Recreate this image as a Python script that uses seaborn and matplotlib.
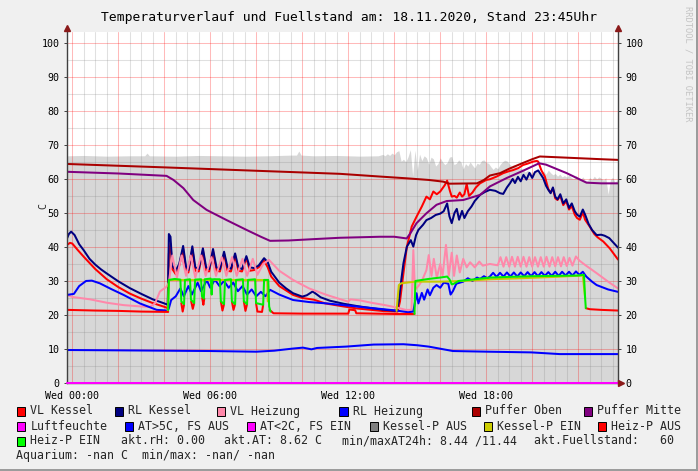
import numpy as np
import pandas as pd
import matplotlib
matplotlib.use("Agg")
import matplotlib.pyplot as plt
import seaborn as sns
from matplotlib.patches import Rectangle
from matplotlib.ticker import MultipleLocator, FixedLocator, FuncFormatter

# ---------------- data (hours since Wed 00:00, degrees C) ----------------
vl_kessel_t = [-0.23, -0.1, 0.0, 0.25, 0.5, 1.0, 1.5, 2.0, 2.5, 3.0, 3.5, 4.0, 4.15,
               4.2, 4.27, 4.35, 4.5, 4.65, 4.82, 4.95, 5.05, 5.22, 5.35, 5.5, 5.68, 5.82, 5.95,
               6.12, 6.27, 6.42, 6.6, 6.75, 6.9, 7.08, 7.22, 7.38, 7.57, 7.72, 7.9, 8.1, 8.34,
               8.5, 8.65, 9.0, 9.6, 10.0, 10.5, 11.0, 11.8, 12.4, 13.0, 13.6, 14.15, 14.25, 14.4,
               14.55, 14.76, 14.97, 15.2, 15.4, 15.55, 15.7, 15.85, 16.0, 16.2, 16.3, 16.42, 16.5,
               16.62, 16.72, 16.85, 16.95, 17.05, 17.15, 17.25, 17.4, 17.55, 17.73, 18.0, 18.16,
               18.45, 18.74, 19.0, 19.17, 19.4, 19.6, 19.8, 20.04, 20.2, 20.26, 20.4, 20.55, 20.7,
               20.8, 20.9, 21.0, 21.1, 21.22, 21.35, 21.48, 21.6, 21.72, 21.85, 21.95, 22.07, 22.2,
               22.3, 22.5, 22.7, 22.85, 23.09, 23.37, 23.73]
vl_kessel_v = [40.6, 41.2, 41.0, 39.0, 37.1, 33.5, 30.5, 28.2, 26.3, 24.8, 23.5, 22.4, 22.0,
               38.0, 41.0, 33.5, 32.0, 34.5, 39.5, 33.0, 32.5, 39.5, 33.0, 32.8, 39.0, 33.0, 32.8,
               38.8, 33.0, 32.8, 38.0, 33.0, 32.8, 37.5, 33.0, 32.8, 36.8, 33.0, 33.2, 34.0, 36.0,
               34.0, 31.3, 28.5, 25.9, 25.0, 24.5, 23.4, 22.5, 21.9, 21.5, 21.1, 21.0, 24.0, 32.3,
               40.1, 46.0, 48.9, 51.9, 54.8, 54.0, 56.3, 55.5, 56.3, 58.2, 59.5, 56.5, 54.8,
               55.0, 54.5, 56.0, 54.8, 55.5, 58.5, 55.0, 56.0, 57.5, 58.7, 59.7, 59.9,
               60.7, 61.7, 62.3, 62.6, 63.2, 64.1, 64.5, 65.1, 65.3, 65.1, 62.5, 60.7, 57.0,
               56.0, 57.2, 54.3, 53.8, 55.0, 52.3, 53.5, 51.0, 52.0, 49.5, 48.5, 48.0, 50.2,
               48.0, 46.0, 43.8, 42.8, 41.6, 39.6, 36.3]

rl_kessel_t = [-0.23, -0.15, -0.05, 0.1, 0.3, 0.5, 0.75, 1.0, 1.25, 1.5, 2.0, 2.5, 3.0, 3.5, 4.0, 4.15,
               4.2, 4.27, 4.35, 4.5, 4.65, 4.82, 4.95, 5.05, 5.22, 5.35, 5.5, 5.68, 5.82, 5.95, 6.12,
               6.27, 6.42, 6.6, 6.75, 6.9, 7.08, 7.22, 7.38, 7.57, 7.72, 7.9, 8.1, 8.34, 8.5, 8.65,
               9.0, 9.3, 9.6, 10.0, 10.2, 10.45, 10.6, 10.8, 11.2, 11.8, 12.4, 13.0, 13.6, 14.1,
               14.2, 14.3, 14.4, 14.55, 14.72, 14.83, 14.95, 15.05, 15.25, 15.4, 15.6, 15.8, 16.0,
               16.15, 16.3, 16.4, 16.5, 16.62, 16.72, 16.82, 16.95, 17.05, 17.2, 17.36, 17.5, 17.73,
               17.95, 18.16, 18.4, 18.6, 18.74, 18.9, 19.03, 19.15, 19.25, 19.38, 19.5, 19.62, 19.75,
               19.88, 20.0, 20.12, 20.26, 20.4, 20.48, 20.6, 20.7, 20.8, 20.9, 21.0, 21.1, 21.22,
               21.35, 21.48, 21.6, 21.72, 21.85, 21.95, 22.07, 22.2, 22.3, 22.45, 22.6, 22.8, 23.0,
               23.15, 23.35, 23.5, 23.73]
rl_kessel_v = [42.5, 43.8, 44.5, 43.5, 40.8, 39.0, 36.5, 34.8, 33.4, 32.2, 29.9, 27.9, 26.2, 24.6, 23.4, 23.0,
               43.8, 43.0, 34.5, 33.0, 35.0, 40.3, 34.0, 33.2, 40.2, 34.0, 33.5, 39.6, 34.0, 33.5, 39.4,
               34.0, 33.5, 38.6, 34.0, 33.6, 38.1, 34.0, 33.5, 37.3, 34.0, 33.8, 34.5, 36.7, 35.5, 32.7,
               29.5, 27.8, 26.4, 25.4, 25.8, 26.9, 26.2, 25.2, 24.2, 23.3, 22.6, 22.0, 21.5, 21.2,
               24.0, 30.0, 35.2, 40.1, 42.0, 40.1, 43.5, 45.0, 46.5, 47.9, 48.5, 49.4, 49.8,
               50.5, 52.8, 49.0, 47.0, 50.0, 51.2, 48.0, 50.6, 48.5, 50.5, 51.9, 53.5, 55.3,
               56.2, 56.8, 56.5, 55.8, 55.6, 57.5, 58.7, 60.0, 58.8, 60.6, 59.3, 61.2, 59.8,
               61.8, 60.3, 62.0, 62.5, 61.0, 60.2, 58.0, 56.8, 55.8, 57.5, 54.8, 54.0, 55.5,
               52.8, 54.0, 51.5, 52.8, 50.5, 49.5, 48.9, 51.0, 49.5, 46.8, 45.0, 43.5, 43.6,
               43.3, 42.6, 41.5, 39.8]

vl_heiz_t = [-0.23, 0.0, 0.77, 1.5, 2.23, 3.0, 3.38, 3.6, 3.81, 4.1, 4.2, 4.35, 4.55, 4.75, 4.95,
             5.15, 5.35, 5.6, 5.8, 6.05, 6.25, 6.5, 6.7, 6.95, 7.15, 7.4, 7.6, 7.85, 8.05, 8.3, 8.55,
             9.0, 9.6, 10.3, 11.06, 12.0, 12.1, 12.5, 13.0, 13.6, 14.1, 14.5, 14.75, 14.83, 14.9,
             15.05, 15.2, 15.4, 15.5, 15.62, 15.72, 15.85, 16.0, 16.1, 16.25, 16.37, 16.5, 16.6,
             16.72, 16.85, 17.0, 17.15, 17.3, 17.5, 17.7, 17.85, 18.16, 18.5, 18.62, 18.75, 18.87,
             19.0, 19.12, 19.25, 19.37, 19.5, 19.62, 19.75, 19.87, 20.0, 20.12, 20.25, 20.37, 20.5,
             20.62, 20.75, 20.87, 21.0, 21.12, 21.25, 21.37, 21.5, 21.62, 21.75, 21.9, 22.05, 22.3,
             22.8, 23.3, 23.73]
vl_heiz_v = [25.9, 25.3, 24.6, 23.6, 22.9, 22.5, 22.4, 23.4, 26.9, 28.3, 29.5, 37.5, 31.0, 37.5, 31.5,
             37.5, 31.0, 37.5, 31.5, 37.0, 31.5, 37.0, 31.5, 37.0, 31.5, 36.5, 31.5, 36.5, 31.8, 35.0, 36.2,
             33.0, 30.3, 27.8, 25.9, 23.9, 24.6, 24.3, 23.6, 22.9, 22.2, 21.5, 21.5, 39.1, 27.4,
             28.5, 30.0, 33.2, 37.6, 31.5, 36.5, 31.0, 35.0, 31.5, 40.6, 31.5, 38.3, 31.5,
             37.5, 32.5, 36.5, 34.0, 35.5, 34.0, 35.7, 34.5, 35.0, 34.6, 37.0, 34.2, 37.0,
             34.2, 37.1, 34.2, 37.1, 34.2, 37.1, 34.2, 37.0, 34.2, 37.0, 34.2, 37.0, 34.2,
             37.1, 34.2, 37.0, 34.3, 37.0, 34.3, 37.0, 34.4, 36.8, 34.5, 37.2, 36.0, 34.7,
             32.3, 29.8, 27.8]

rl_heiz_t = [-0.23, 0.07, 0.3, 0.6, 0.85, 1.2, 1.7, 2.23, 2.94, 3.67, 4.15, 4.2, 4.3, 4.5, 4.7, 4.85,
             5.05, 5.2, 5.45, 5.6, 5.85, 6.0, 6.2, 6.4, 6.6, 6.8, 7.0, 7.2, 7.4, 7.6, 7.8, 8.0, 8.2,
             8.4, 8.6, 9.0, 9.6, 10.3, 11.06, 12.5, 14.1, 14.6, 14.83, 14.97, 15.05, 15.2, 15.3,
             15.45, 15.55, 15.7, 15.84, 16.0, 16.15, 16.35, 16.45, 16.55, 16.7, 17.0, 17.2, 17.4,
             17.6, 17.73, 17.9, 18.05, 18.16, 18.3, 18.45, 18.6, 18.75, 18.9, 19.05, 19.2, 19.35,
             19.5, 19.65, 19.8, 19.95, 20.1, 20.25, 20.4, 20.55, 20.7, 20.85, 21.0, 21.15, 21.3,
             21.45, 21.6, 21.75, 21.9, 22.05, 22.2, 22.35, 22.6, 22.8, 23.3, 23.73]
rl_heiz_v = [25.9, 26.2, 28.5, 30.0, 30.1, 29.3, 27.6, 25.9, 23.4, 21.5, 21.3, 22.0, 24.4, 25.5, 27.8, 25.5,
             28.5, 26.0, 29.5, 27.0, 30.2, 28.0, 30.4, 28.5, 30.0, 28.0, 29.5, 27.0, 28.5, 26.0, 27.5, 25.5, 26.8,
             25.5, 27.4, 26.0, 24.4, 23.8, 23.4, 22.4, 21.3, 20.8, 21.0, 26.4, 23.4, 26.5, 24.5,
             27.5, 25.8, 28.0, 28.8, 28.0, 29.5, 29.2, 26.0, 27.0, 29.2, 29.8, 30.8, 30.0,
             31.0, 30.6, 31.4, 30.8, 31.3, 32.4, 31.2, 32.4, 31.3, 32.5, 31.3, 32.5, 31.3,
             32.5, 31.4, 32.6, 31.4, 32.6, 31.4, 32.6, 31.5, 32.6, 31.5, 32.7, 31.5, 32.7,
             31.6, 32.7, 31.6, 32.8, 31.8, 32.7, 31.3, 29.8, 28.8, 27.5, 26.8]

puffer_oben_t = [-0.23, 4.0, 8.0, 11.64, 13.38, 14.5, 15.5, 16.13, 16.4, 17.6, 17.9, 18.16, 18.6,
                 19.0, 19.6, 20.0, 20.33, 21.0, 22.0, 23.0, 23.73]
puffer_oben_v = [64.4, 63.4, 62.4, 61.5, 60.7, 60.2, 59.7, 59.2, 58.6, 58.7, 59.7, 61.0, 61.7,
                 63.0, 64.7, 65.8, 66.6, 66.4, 66.1, 65.8, 65.6]

puffer_mitte_t = [-0.23, 2.0, 4.1, 4.4, 4.83, 5.26, 5.84, 6.71, 7.58, 8.2, 8.6, 9.4, 10.5, 11.64,
                  13.38, 14.0, 14.54, 14.7, 14.97, 15.4, 15.84, 16.28, 17.0, 17.73, 18.16, 18.9,
                  19.6, 20.3, 20.6, 21.5, 22.36, 23.0, 23.73]
puffer_mitte_v = [62.1, 61.6, 60.9, 59.7, 57.3, 53.8, 50.9, 47.9, 45.0, 43.0, 41.8, 41.9, 42.3, 42.7,
                  43.0, 43.0, 42.5, 44.0, 47.0, 49.9, 52.4, 53.5, 53.8, 55.3, 57.8, 60.3,
                  62.4, 64.6, 64.2, 61.7, 58.9, 58.7, 58.7]

at_t = [-0.23, 2.0, 4.0, 6.0, 8.0, 8.78, 9.56, 10.03, 10.4, 10.64, 11.9, 13.1, 14.4, 15.0,
        15.5, 16.55, 18.1, 19.96, 21.2, 23.73]
at_v = [9.7, 9.6, 9.5, 9.4, 9.2, 9.5, 10.1, 10.4, 9.9, 10.3, 10.7, 11.3, 11.4, 11.1,
        10.7, 9.4, 9.2, 9.0, 8.5, 8.5]

luft_t = [-0.23, 23.73]
luft_v = [0.0, 0.0]

kp_ein_t = [[4.15, 4.2, 8.48, 8.5],
            [14.1, 14.2, 14.3, 14.9, 16.0, 17.0, 18.16, 19.5, 21.0, 22.2, 22.3]]
kp_ein_v = [[21.0, 30.3, 30.3, 24.0],
            [21.2, 28.8, 29.3, 29.8, 29.8, 30.0, 30.5, 30.8, 31.2, 31.6, 25.0]]

hp_aus_t = [[-0.23, 1.0, 2.0, 3.0, 4.17],
            [4.74, 4.8, 4.86], [5.17, 5.24, 5.3], [5.65, 5.7, 5.74], [6.46, 6.53, 6.6],
            [6.94, 7.01, 7.08], [7.46, 7.53, 7.6], [7.99, 8.05, 8.25, 8.3],
            [8.58, 8.75, 10.0, 12.0, 12.05, 12.3, 12.35, 14.0, 14.88],
            [22.33, 22.5, 23.0, 23.73]]
hp_aus_v = [[21.5, 21.3, 21.2, 21.0, 20.9],
            [23.5, 21.0, 23.0], [24.0, 21.8, 23.5], [25.0, 23.0, 24.8], [24.0, 21.3, 23.2],
            [24.0, 21.5, 23.2], [24.0, 21.2, 23.2], [23.5, 21.0, 20.9, 23.0],
            [21.5, 20.5, 20.4, 20.4, 21.6, 21.4, 20.5, 20.3, 20.3],
            [22.0, 21.7, 21.5, 21.3]]

hp_ein_t = [[4.17, 4.2, 4.45, 4.7, 4.74, 4.86, 4.9, 5.12, 5.16, 5.3, 5.34, 5.6, 5.64, 5.72, 5.76,
             6.02, 6.06, 6.1, 6.42, 6.46, 6.6, 6.64, 6.9, 6.94, 7.08, 7.12, 7.42, 7.46, 7.6, 7.64,
             7.95, 7.99, 8.3, 8.34, 8.52, 8.56, 8.62],
            [14.88, 14.92, 15.2, 15.5, 16.0, 16.3, 16.4, 16.5, 16.6, 16.8, 17.5, 18.16, 19.0,
             20.0, 21.0, 22.0, 22.25, 22.3, 22.33]]
hp_ein_v = [[21.5, 30.3, 30.6, 30.4, 24.0, 23.2, 30.3, 30.5, 24.5, 23.5, 30.4, 30.5, 25.5, 24.8, 30.5,
             30.7, 26.0, 30.5, 30.5, 24.0, 23.2, 30.3, 30.5, 24.0, 23.2, 30.3, 30.5, 24.0, 23.2, 30.3,
             30.5, 23.5, 23.0, 30.3, 30.3, 22.5, 21.0],
            [20.3, 30.0, 30.3, 30.6, 31.0, 31.3, 30.5, 29.0, 29.2, 30.0, 30.5, 31.0, 31.2,
             31.4, 31.5, 31.6, 31.8, 25.0, 22.0]]

fuell_t = [-0.23, 0.5, 1.5, 2.5, 3.15, 3.25, 3.35, 4.5, 5.5, 6.5, 7.5, 8.5, 9.5, 9.75, 9.85, 9.95,
           10.5, 11.5, 12.5, 13.3,
           13.4, 13.5, 13.6, 13.7, 13.8, 13.9, 14.0, 14.1, 14.2, 14.3, 14.4, 14.5, 14.6, 14.7, 14.8,
           14.9, 15.0, 15.1, 15.2, 15.3, 15.4, 15.5, 15.6, 15.7, 15.8, 15.9, 16.0, 16.1, 16.2, 16.3,
           16.4, 16.5, 16.6, 16.7, 16.8, 16.9, 17.0, 17.1, 17.2, 17.3, 17.4, 17.5, 17.6, 17.7, 17.8,
           17.9, 18.0, 18.1, 18.2, 18.3, 18.4, 18.5, 18.6, 18.7, 18.8, 18.9, 19.0, 19.1, 19.2, 19.3,
           19.4, 19.5, 19.6, 19.7, 19.8, 19.9, 20.0, 20.1, 20.2, 20.3, 20.4, 20.5, 20.6, 20.7, 20.8,
           20.9, 21.0, 21.1, 21.2, 21.3, 21.4, 21.5, 21.6, 21.7, 21.8, 21.9, 22.0, 22.1, 22.2, 22.3,
           22.4, 22.5, 22.6, 22.7, 22.8, 22.9, 23.0, 23.1, 23.2, 23.3, 23.4, 23.5, 23.6, 23.73]
fuell_v = [66.8, 66.9, 66.7, 66.8, 66.8, 67.6, 66.8, 66.7, 66.9, 66.8, 66.7, 66.8, 67.0, 67.0, 68.2, 67.0,
           66.8, 66.9, 66.7, 66.8,
           67.0, 67.2, 66.8, 67.4, 66.9, 67.6, 67.1, 68.0, 68.3, 65.2, 65.8, 65.0, 66.5, 68.6, 60.8,
           68.4, 62.5, 67.3, 65.4, 66.8, 66.2, 64.3, 66.4, 65.9, 63.8, 64.5, 66.2, 65.0, 64.2, 64.8,
           66.4, 66.6, 64.2, 64.6, 65.6, 65.0, 62.9, 64.5, 63.8, 65.0, 64.0, 63.2, 64.6, 64.3, 65.4,
           65.6, 64.8, 64.6, 63.6, 62.8, 63.5, 63.0, 64.2, 65.0, 65.5, 65.3, 64.4, 63.8, 64.2, 63.6,
           63.0, 63.2, 62.8, 62.0, 62.6, 61.5, 62.2, 61.6, 62.4, 61.8, 62.0, 62.2, 61.4, 62.6, 61.8,
           61.2, 61.6, 60.8, 61.4, 60.6, 61.0, 60.5, 61.2, 60.4, 60.0, 61.0, 60.2, 59.8, 60.6, 59.6,
           59.4, 60.4, 59.8, 60.8, 60.0, 60.6, 60.2, 59.6, 60.4, 55.5, 59.8, 60.5, 59.0, 60.0]

legend_labels = ["VL Kessel", "RL Kessel", "VL Heizung", "RL Heizung", "Puffer Oben", "Puffer Mitte",
                 "Luftfeuchte", "AT>5C, FS AUS", "AT<2C, FS EIN", "Kessel-P AUS", "Kessel-P EIN",
                 "Heiz-P AUS", "Heiz-P EIN"]
legend_colors = ["#ff0000", "#000080", "#ff88aa", "#0000ff", "#aa0000", "#800080",
                 "#ff00ff", "#0000ff", "#ff00ff", "#808080", "#cccc00", "#ff0000", "#00ff00"]

title = "Temperaturverlauf und Fuellstand am: 18.11.2020, Stand 23:45Uhr"
info_texts = ["akt.rH: 0.00", "akt.AT: 8.62 C", "min/maxAT24h: 8.44 /11.44", "akt.Fuellstand:   60"]
aquarium_text = "Aquarium: -nan C  min/max: -nan/ -nan"
x_label_hours = [0, 6, 12, 18]

# ---------------- drawing ----------------
sns.set_style("white")
plt.rcParams['font.family'] = ['DejaVu Sans Mono']

W, H = 698, 471
fig = plt.figure(figsize=(W / 100, H / 100), dpi=100, facecolor='#f0f0f0')
ax = fig.add_axes([67 / W, (H - 383) / H, (618 - 67) / W, (383 - 32) / H])
ax.set_facecolor('white')

# gray area
ax.fill_between(fuell_t, 0, fuell_v, color='#d7d7d7', lw=0, zorder=1)


def build(name, ts, vs, segmented=False):
    rows = []
    if not segmented:
        ts, vs = [ts], [vs]
    for i, (tt, vv) in enumerate(zip(ts, vs)):
        for a, b in zip(tt, vv):
            rows.append((name, i, a, b))
    return pd.DataFrame(rows, columns=['series', 'seg', 't', 'v'])


layers = [
    ("VL Kessel", vl_kessel_t, vl_kessel_v, False, "#ff0000"),
    ("RL Kessel", rl_kessel_t, rl_kessel_v, False, "#000080"),
    ("VL Heizung", vl_heiz_t, vl_heiz_v, False, "#ff88aa"),
    ("RL Heizung", rl_heiz_t, rl_heiz_v, False, "#0000ff"),
    ("Puffer Oben", puffer_oben_t, puffer_oben_v, False, "#aa0000"),
    ("Puffer Mitte", puffer_mitte_t, puffer_mitte_v, False, "#800080"),
    ("AT", at_t, at_v, False, "#0000ff"),
    ("Kessel-P EIN", kp_ein_t, kp_ein_v, True, "#c8c800"),
    ("Heiz-P AUS", hp_aus_t, hp_aus_v, True, "#ff0000"),
    ("Heiz-P EIN", hp_ein_t, hp_ein_v, True, "#00ee00"),
]
for name, ts, vs, segd, col in layers:
    df = build(name, ts, vs, segd)
    sns.lineplot(data=df, x='t', y='v', units='seg', estimator=None, sort=False,
                 color=col, lw=1.45, ax=ax, legend=False)

df_l = build("Luftfeuchte", luft_t, luft_v)
sns.lineplot(data=df_l, x='t', y='v', estimator=None, sort=False, color='#ff00ff', lw=1.45,
             ax=ax, legend=False, zorder=3, clip_on=False)

ax.set_xlim(-0.23, 23.73)
ax.set_ylim(0, 103.2)
ax.set_xlabel('')
ax.set_ylabel('')

# grid
ax.xaxis.set_major_locator(FixedLocator(list(range(0, 24, 2))))
ax.xaxis.set_minor_locator(MultipleLocator(0.5))
ax.yaxis.set_major_locator(MultipleLocator(10))
ax.yaxis.set_minor_locator(MultipleLocator(5))
ax.xaxis.set_major_formatter(FuncFormatter(
    lambda h, p: f"Wed {int(round(h)):02d}:00" if int(round(h)) in x_label_hours else ''))
ax.set_axisbelow('line')
ax.grid(which='minor', color='#808080', alpha=0.24, lw=0.75)
ax.grid(which='major', color='#ff0000', alpha=0.27, lw=0.75)
ax.tick_params(which='minor', length=0)
ax.tick_params(which='major', length=2.5, width=0.7, color='#404040', labelsize=7.2,
               labelcolor='black')
ax.tick_params(axis='y', which='major', left=True, right=True, labelleft=True,
               labelright=True, pad=3)
ax.tick_params(axis='x', which='major', pad=3)

for s in ['left', 'bottom', 'right']:
    ax.spines[s].set_color('#404040')
    ax.spines[s].set_linewidth(1.0)
ax.spines['top'].set_visible(False)

# arrows
arrow_col = '#8b1a1a'
ax.plot([0], [1 + 4 / 351], marker='^', ms=4.5, color=arrow_col, transform=ax.transAxes,
        clip_on=False, zorder=5)
ax.plot([1], [1 + 4 / 351], marker='^', ms=4.5, color=arrow_col, transform=ax.transAxes,
        clip_on=False, zorder=5)
ax.plot([1 + 3 / 551], [0], marker='>', ms=4.5, color=arrow_col, transform=ax.transAxes,
        clip_on=False, zorder=5)

# texts
fig.text(349 / W, 1 - 17 / H, title, ha='center', va='center', fontsize=9.4, color='black')
fig.text(43 / W, 1 - 206 / H, 'C', rotation=90, ha='center', va='center', fontsize=7.2)
fig.text(688 / W, 1 - 6 / H, 'RRDTOOL / TOBI OETIKER', rotation=270, ha='center', va='top',
         fontsize=6.3, color='#c4c4c4')

row_y = [411, 426, 441, 456]
text_x = [[30.3, 128.2, 230.0, 352.6, 485.3, 597.0],
          [30.3, 138.0, 260.5, 383.0, 497.3, 611.3],
          [30.3]]
k = 0
for r, xs in enumerate(text_x):
    for x in xs:
        y = row_y[r]
        fig.patches.append(Rectangle(((x - 13.5) / W, 1 - (y + 4.5) / H), 8.5 / W, 9 / H,
                                     transform=fig.transFigure, facecolor=legend_colors[k],
                                     edgecolor='black', lw=0.7))
        fig.text(x / W, 1 - y / H, legend_labels[k], ha='left', va='center', fontsize=8.35)
        k += 1
for x, s in zip([121, 224, 342, 534.3], info_texts):
    fig.text(x / W, 1 - 441 / H, s, ha='left', va='center', fontsize=8.35)
fig.text(16.5 / W, 1 - 456 / H, aquarium_text, ha='left', va='center', fontsize=8.35)

# 3d frame
fig.patches.append(Rectangle((1 - 2 / W, 0), 2 / W, 1, transform=fig.transFigure,
                             facecolor='#9c9c9c', edgecolor='none'))
fig.patches.append(Rectangle((0, 0), 1, 2 / H, transform=fig.transFigure,
                             facecolor='#9c9c9c', edgecolor='none'))

fig.savefig('out.png', dpi=100, facecolor=fig.get_facecolor())
